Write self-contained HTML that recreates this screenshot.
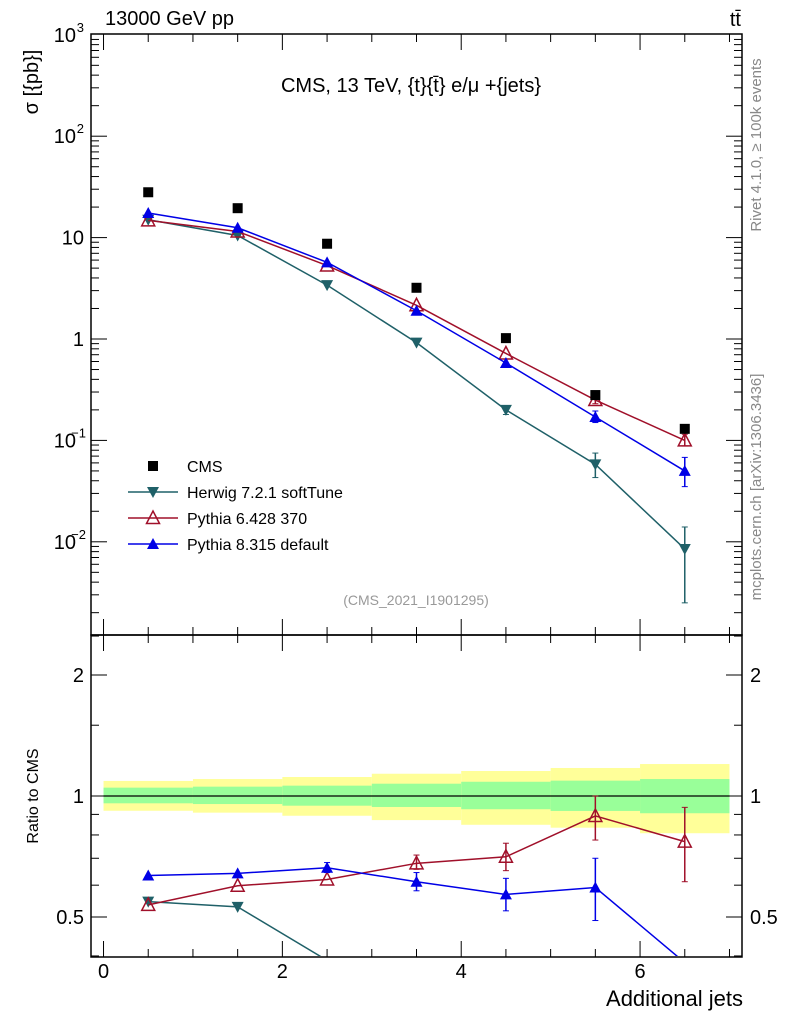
<!DOCTYPE html>
<html><head><meta charset="utf-8"><style>
html,body{margin:0;padding:0;background:#fff;width:786px;height:1024px;overflow:hidden}
svg{display:block;font-family:"Liberation Sans",sans-serif}
</style></head><body>
<svg id="c" width="786" height="1024" viewBox="0 0 786 1024">
<text x="105" y="25" font-size="20">13000 GeV pp</text>
<text x="741" y="26" font-size="20" text-anchor="end">tt̄</text>
<text x="411" y="92" font-size="20" text-anchor="middle">CMS, 13 TeV, {t}{t̄} e/μ +{jets}</text>
<text x="416" y="605" font-size="14" fill="#999" text-anchor="middle">(CMS_2021_I1901295)</text>
<text transform="translate(38,82) rotate(-90)" font-size="20" text-anchor="middle">σ [{pb}]</text>
<text transform="translate(38,796) rotate(-90)" font-size="16" text-anchor="middle">Ratio to CMS</text>
<text x="743" y="1006" font-size="22" text-anchor="end">Additional jets</text>
<text transform="translate(761,145) rotate(-90)" font-size="15" fill="#888" text-anchor="middle">Rivet 4.1.0, ≥ 100k events</text>
<text transform="translate(761,487) rotate(-90)" font-size="15" fill="#888" text-anchor="middle">mcplots.cern.ch [arXiv:1306.3436]</text>
</svg>
<script>
const categories=[0.5,1.5,2.5,3.5,4.5,5.5,6.5];
const cmsVals=[28,19.5,8.7,3.2,1.02,0.28,0.13];
const herwigVals=[15,10.5,3.4,0.92,0.2,0.058,0.0085];
const herwigLo=[15,10.5,3.4,0.92,0.18,0.043,0.0025];
const herwigHi=[15,10.5,3.4,0.92,0.22,0.075,0.014];
const py6Vals=[14.8,11.5,5.3,2.15,0.72,0.25,0.10];
const py6Lo=[14.8,11.5,5.3,2.15,0.72,0.23,0.088];
const py6Hi=[14.8,11.5,5.3,2.15,0.72,0.27,0.115];
const py8Vals=[17.5,12.5,5.7,1.9,0.58,0.17,0.05];
const py8Lo=[17.5,12.5,5.7,1.9,0.58,0.15,0.035];
const py8Hi=[17.5,12.5,5.7,1.9,0.58,0.195,0.068];
const herwigRatio=[0.546,0.53,0.39,0.29,0.2,0.2,0.065];
const py6Ratio=[0.536,0.598,0.62,0.68,0.706,0.892,0.77];
const py6RLo=[0.536,0.598,0.62,0.657,0.652,0.777,0.612];
const py6RHi=[0.536,0.598,0.62,0.713,0.763,1.0,0.937];
const py8Ratio=[0.634,0.642,0.663,0.612,0.569,0.592,0.385];
const py8RLo=[0.634,0.642,0.645,0.581,0.518,0.490,0.385];
const py8RHi=[0.634,0.642,0.683,0.645,0.624,0.700,0.385];
const yelHi=[1.090,1.102,1.115,1.136,1.154,1.174,1.201];
const yelLo=[0.919,0.909,0.893,0.871,0.848,0.834,0.808];
const grnHi=[1.049,1.055,1.061,1.073,1.085,1.092,1.102];
const grnLo=[0.959,0.955,0.946,0.939,0.927,0.918,0.906];
const xTicks=[0,2,4,6];
const yTickLabels=[["10","3",1000],["10","2",100],["10","",10],["1","",1],["10","−1",0.1],["10","−2",0.01]];
const rTicks=[["2",2],["1",1],["0.5",0.5]];

const S=document.getElementById('c'),NS='http://www.w3.org/2000/svg';
function el(t,a,p){const e=document.createElementNS(NS,t);for(const k in a)e.setAttribute(k,a[k]);(p||S).appendChild(e);return e;}
const L=91,R=742,T=34,M=635,B=957;
const X=v=>L+(v+0.14)/7.28*(R-L);
const Y=v=>339-Math.log10(v)*101.4;
const YR=v=>796-Math.log2(v)*121;

for(let i=0;i<7;i++){
 const b=el('rect',{x:X(i),y:YR(yelHi[i]),width:X(i+1)-X(i),height:YR(yelLo[i])-YR(yelHi[i]),fill:'#ffff99'});
 
 
 const g=el('rect',{x:X(i),y:YR(grnHi[i]),width:X(i+1)-X(i),height:YR(grnLo[i])-YR(grnHi[i]),fill:'#99ff99'});
 
 
}
el('line',{x1:X(0),x2:X(7),y1:YR(1),y2:YR(1),stroke:'#000','stroke-width':1.3});

el('rect',{x:L,y:T,width:R-L,height:M-T,fill:'none',stroke:'#000','stroke-width':1.5});
el('rect',{x:L,y:M,width:R-L,height:B-M,fill:'none',stroke:'#000','stroke-width':1.5});
for(let k=0;k<=14;k++){const v=k/2,x=X(v);
 const l2=k%4==0?16:8;
 [[T,1],[M,1],[M,-1],[B,-1]].forEach(([y,d])=>el('line',{x1:x,x2:x,y1:y,y2:y+d*l2,stroke:'#000'}));}
xTicks.forEach(v=>{const t=el('text',{x:X(v),y:978,'font-size':20,'text-anchor':'middle'});t.textContent=v;
 });
for(let d=-3;d<3;d++)for(let m=1;m<10;m++){const v=m*Math.pow(10,d),y=Y(v);if(y<T||y>M)continue;const ln=m==1?16:8;
 el('line',{x1:L,x2:L+ln,y1:y,y2:y,stroke:'#000'});el('line',{x1:R,x2:R-ln,y1:y,y2:y,stroke:'#000'});}
yTickLabels.forEach(([b,e,v])=>{const t=el('text',{x:e?76:84,y:Y(v)+7,'font-size':20,'text-anchor':'end'});t.textContent=b;
 if(e){el('text',{x:e.length>1?86:84,y:Y(v)-3,'font-size':13,'text-anchor':'end'}).textContent=e;}
 });
[0.4,0.5,0.6,0.7,0.8,0.9,1,1.5,2,2.5].forEach(v=>{const y=YR(v);if(y<M||y>B)return;const ln=(v==1||v==2||v==0.5)?16:8;
 el('line',{x1:L,x2:L+ln,y1:y,y2:y,stroke:'#000'});el('line',{x1:R,x2:R-ln,y1:y,y2:y,stroke:'#000'});});
rTicks.forEach(([s,v])=>{const a=el('text',{x:84,y:YR(v)+7,'font-size':20,'text-anchor':'end'});a.textContent=s;
 
 const b=el('text',{x:750,y:YR(v)+7,'font-size':20});b.textContent=s;
 });

function clipG(y0,y1,id){const c=el('clipPath',{id});el('rect',{x:L,y:y0,width:R-L,height:y1-y0},c);return el('g',{'clip-path':`url(#${id})`});}
const gTop=clipG(T,M,'ct'),gBot=clipG(M,B-1,'cb');
function marker(g,type,x,y,col){
 if(type=='sq')return el('rect',{x:x-5,y:y-5,width:10,height:10,fill:'#000'},g);
 if(type=='down')return el('polygon',{points:`${x-6},${y-5} ${x+6},${y-5} ${x},${y+6}`,fill:col},g);
 if(type=='up')return el('polygon',{points:`${x-6},${y+5} ${x+6},${y+5} ${x},${y-6}`,fill:col},g);
 if(type=='open')return el('polygon',{points:`${x-6.5},${y+5.5} ${x+6.5},${y+5.5} ${x},${y-7}`,fill:'none',stroke:col,'stroke-width':1.5},g);
}
function series(g,yf,vals,lo,hi,col,type,name){
 const line=el('polyline',{points:categories.map((c,i)=>X(c)+','+yf(vals[i])).join(' '),fill:'none',stroke:col,'stroke-width':1.5},g);
 
 categories.forEach((c,i)=>{
  if(lo&&hi&&(hi[i]!=lo[i])){const x=X(c);el('line',{x1:x,x2:x,y1:yf(lo[i]),y2:yf(hi[i]),stroke:col,'stroke-width':1.5},g);
   el('line',{x1:x-3,x2:x+3,y1:yf(lo[i]),y2:yf(lo[i]),stroke:col},g);el('line',{x1:x-3,x2:x+3,y1:yf(hi[i]),y2:yf(hi[i]),stroke:col},g);}
  const y=yf(vals[i]);
  if(g===gBot&&y>B-6)return;
  const m=marker(g,type,X(c),y,col);
  });
}
series(gTop,Y,herwigVals,herwigLo,herwigHi,'#1f6068','down','herwig');
series(gTop,Y,py6Vals,py6Lo,py6Hi,'#a0102a','open','pythia6');
series(gTop,Y,py8Vals,py8Lo,py8Hi,'#0000e6','up','pythia8');
categories.forEach((c,i)=>{const m=marker(gTop,'sq',X(c),Y(cmsVals[i]));});
series(gBot,YR,herwigRatio,null,null,'#1f6068','down','herwig-ratio');
series(gBot,YR,py6Ratio,py6RLo,py6RHi,'#a0102a','open','pythia6-ratio');
series(gBot,YR,py8Ratio,py8RLo,py8RHi,'#0000e6','up','pythia8-ratio');

const leg=[['sq','#000','CMS'],['down','#1f6068','Herwig 7.2.1 softTune'],['open','#a0102a','Pythia 6.428 370'],['up','#0000e6','Pythia 8.315 default']];
leg.forEach(([t,c,s],i)=>{const y=466+i*26;
 if(t!='sq')el('line',{x1:128,x2:178,y1:y,y2:y,stroke:c,'stroke-width':1.5});
 marker(S,t,153,y,c);
 const tx=el('text',{x:187,y:y+6,'font-size':16});tx.textContent=s;
 });
</script>
</body></html>
